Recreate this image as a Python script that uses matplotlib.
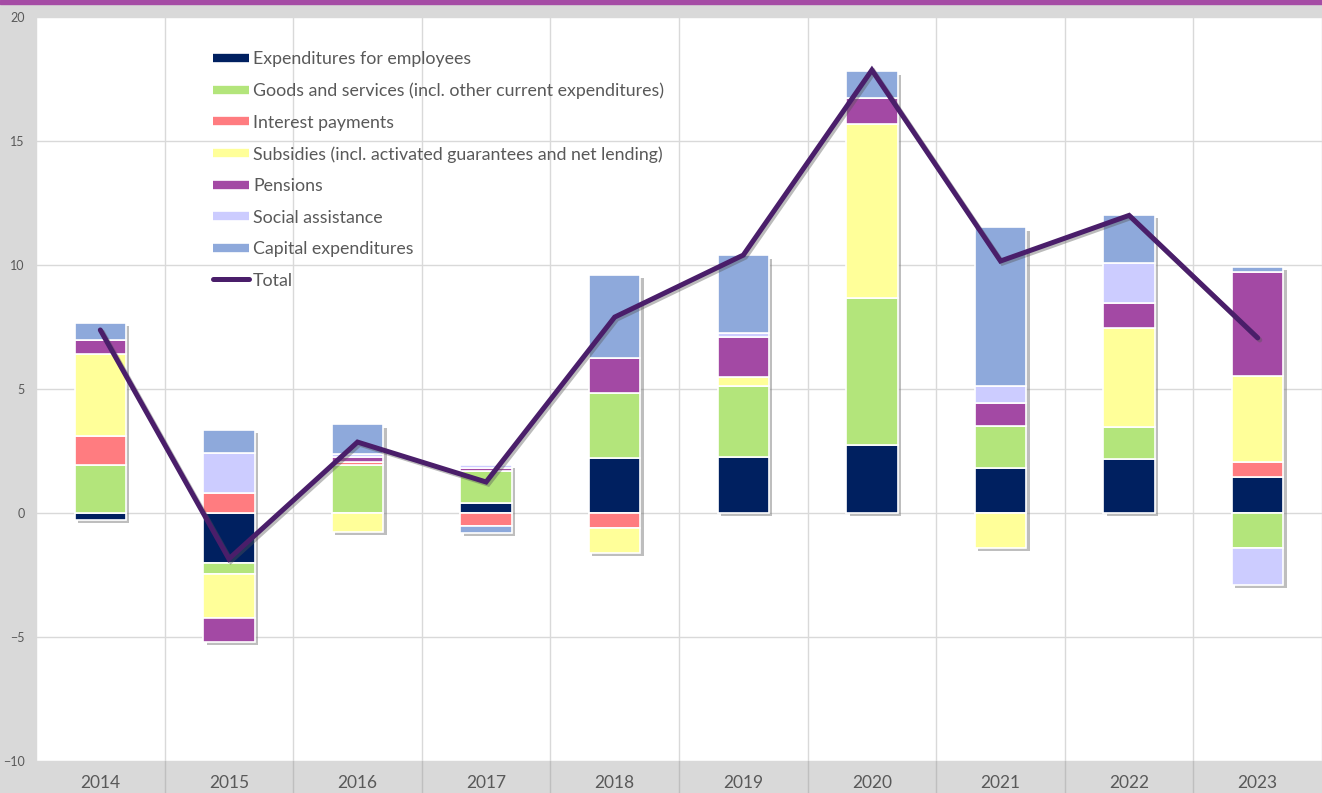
import matplotlib.pyplot as plt
import numpy as np
from matplotlib.lines import Line2D
from matplotlib.patches import Rectangle
import matplotlib.patheffects as pe

years = ['2014', '2015', '2016', '2017', '2018', '2019', '2020', '2021', '2022', '2023']
employees = [-0.27, -2.0, 0.0, 0.4, 2.2, 2.26, 2.74, 1.8, 2.18, 1.45]
goods = [1.94, -0.45, 1.94, 1.3, 2.64, 2.86, 5.93, 1.7, 1.29, -1.4]
interest = [1.17, 0.8, 0.12, -0.52, -0.6, 0.0, 0.0, 0.0, 0.0, 0.61]
subsidies = [3.3, -1.8, -0.75, 0.0, -1.0, 0.36, 7.0, -1.4, 3.99, 3.46]
pensions = [0.56, -0.95, 0.2, 0.13, 1.41, 1.62, 1.05, 0.93, 1.01, 4.2]
social = [0.0, 1.62, 0.1, 0.12, 0.0, 0.16, 0.0, 0.69, 1.61, -1.5]
capital = [0.7, 0.93, 1.22, -0.28, 3.35, 3.14, 1.09, 6.41, 1.94, 0.2]
total = [7.38, -1.85, 2.86, 1.25, 7.9, 10.4, 17.86, 10.16, 12.0, 7.06]

series = [
    ('Expenditures for employees', employees, '#002060'),
    ('Goods and services (incl. other current expenditures)', goods, '#B3E57B'),
    ('Interest payments', interest, '#FF7C80'),
    ('Subsidies (incl. activated guarantees and net lending)', subsidies, '#FFFF99'),
    ('Pensions', pensions, '#A349A4'),
    ('Social assistance', social, '#CCCCFF'),
    ('Capital expenditures', capital, '#8EA9DB'),
]
total_color = '#4A1E6A'
text_color = '#595959'

plt.rcParams['font.family'] = ['Lato', 'DejaVu Sans']

fig = plt.figure(figsize=(13.22, 7.93), dpi=100)
fig.patch.set_facecolor('#D9D9D9')
fig.patches.append(Rectangle((0, 1 - 4 / 793), 1, 4 / 793, transform=fig.transFigure,
                             color='#A54CA5', zorder=10))
ax = fig.add_axes([36 / 1322, 32 / 793, 1286 / 1322, 744 / 793])
ax.set_facecolor('white')

x = np.arange(len(years))
w = 0.4
pos_bottom = np.zeros(len(years))
neg_bottom = np.zeros(len(years))
for name, vals, col in series:
    v = np.array(vals)
    bottom = np.where(v >= 0, pos_bottom, neg_bottom)
    ax.bar(x, v, w, bottom=bottom, color=col, edgecolor='white', linewidth=1.2, zorder=3)
    pos_bottom += np.where(v > 0, v, 0)
    neg_bottom += np.where(v < 0, v, 0)

# shadow behind each stacked bar
ax.bar(x, pos_bottom - neg_bottom, w, bottom=neg_bottom, color='none', zorder=2,
       path_effects=[pe.SimplePatchShadow(offset=(2.5, -2.5), shadow_rgbFace='#7f7f7f', alpha=0.5)])

ax.plot(x, total, color=total_color, lw=3.6, solid_joinstyle='miter', solid_capstyle='round', zorder=5,
        path_effects=[pe.SimpleLineShadow(offset=(1.5, -1.5), shadow_color='#555555', alpha=0.4),
                      pe.Normal()])

ax.set_xlim(-0.5, len(years) - 0.5)
ax.set_ylim(-10, 20)
ax.set_yticks(np.arange(-10, 21, 5))
ax.set_xticks(x)
ax.set_xticklabels(years, fontsize=12.5, color=text_color)
ax.tick_params(axis='x', length=0, pad=10)
ax.tick_params(axis='y', length=0, pad=8, labelsize=9, labelcolor=text_color)
ax.set_xticks(np.arange(-0.5, len(years), 1), minor=True)
ax.tick_params(axis='x', which='minor', length=0)
ax.grid(axis='y', color='#D9D9D9', lw=1, zorder=0)
ax.grid(axis='x', which='minor', color='#D9D9D9', lw=1, zorder=0)
ax.grid(axis='x', which='major', visible=False)
for s in ax.spines.values():
    s.set_visible(False)

# vertical separators in the category band below the plot
for b in np.arange(0.5, len(years) - 0.5, 1):
    ax.plot([b, b], [-10, -11.5], color='#BFBFBF', lw=1, clip_on=False, zorder=1)

handles = [Line2D([0], [0], color=c, lw=6, solid_capstyle='butt') for _, _, c in series]
handles.append(Line2D([0], [0], color=total_color, lw=3.6, solid_capstyle='round'))
labels = [n for n, _, _ in series] + ['Total']
leg = ax.legend(handles, labels, loc='upper left', bbox_to_anchor=(170 / 1286, 1 - 27 / 744),
                frameon=False, fontsize=12.8, labelcolor=text_color, handlelength=2.0,
                handletextpad=0.25, labelspacing=0.87, borderaxespad=0)

fig.savefig('out.png', dpi=100, facecolor=fig.get_facecolor())
